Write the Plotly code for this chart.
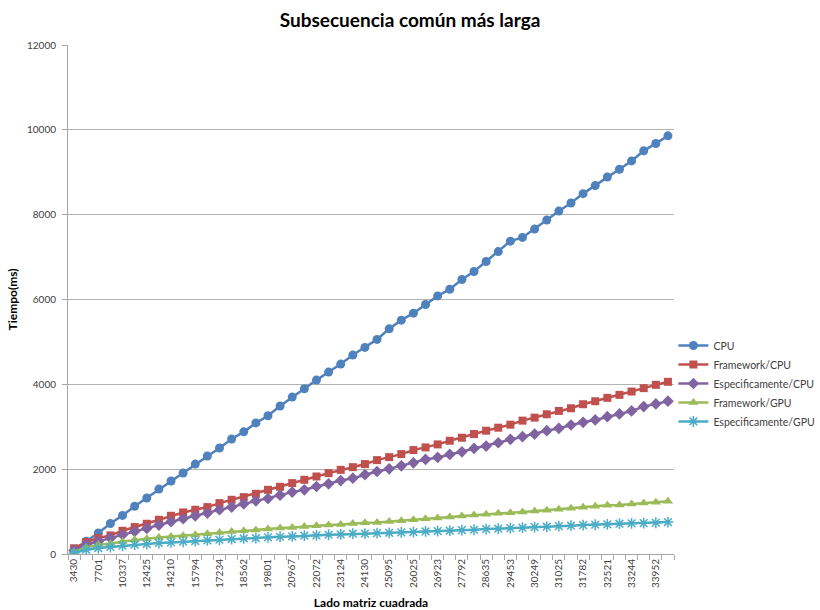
import plotly.graph_objects as go

categories = ["3430", "5961", "7701", "9115", "10337", "11429", "12425", "13348", "14210", "15023",
              "15794", "16530", "17234", "17910", "18562", "19192", "19801", "20393", "20967", "21527",
              "22072", "22604", "23124", "23632", "24130", "24618", "25095", "25565", "26025", "26479",
              "26923", "27361", "27792", "28217", "28635", "29047", "29453", "29854", "30249", "30640",
              "31025", "31406", "31782", "32154", "32521", "32885", "33244", "33600", "33952", "34300"]

cpu = [100, 300, 495, 720, 910, 1125, 1320, 1530, 1720, 1910,
       2120, 2310, 2500, 2710, 2880, 3090, 3260, 3490, 3700, 3895,
       4100, 4289, 4478, 4690, 4871, 5059, 5308, 5513, 5678, 5882,
       6085, 6242, 6471, 6659, 6895, 7130, 7376, 7464, 7660, 7872,
       8085, 8274, 8496, 8686, 8889, 9071, 9267, 9504, 9678, 9858]

framework_cpu = [135, 282, 376, 439, 548, 635, 713, 807, 901, 980,
                 1043, 1106, 1200, 1278, 1341, 1419, 1513, 1584, 1671, 1749,
                 1827, 1906, 1984, 2047, 2120, 2213, 2284, 2355, 2450, 2513,
                 2584, 2670, 2741, 2828, 2907, 2978, 3049, 3144, 3215, 3294,
                 3373, 3436, 3531, 3602, 3681, 3752, 3830, 3910, 3988, 4059]

espec_cpu = [85, 219, 297, 376, 454, 533, 603, 682, 760, 831,
             901, 965, 1043, 1106, 1184, 1254, 1309, 1388, 1459, 1513,
             1591, 1654, 1732, 1788, 1870, 1945, 2007, 2078, 2149, 2230,
             2277, 2348, 2410, 2490, 2544, 2623, 2703, 2765, 2828, 2907,
             2963, 3041, 3105, 3160, 3238, 3302, 3373, 3475, 3539, 3602]

framework_gpu = [47, 156, 219, 242, 297, 336, 360, 391, 414, 431,
                 454, 478, 509, 533, 548, 564, 588, 611, 627, 650,
                 666, 682, 697, 721, 735, 745, 769, 786, 809, 833,
                 849, 872, 895, 918, 935, 959, 975, 990, 1013, 1030,
                 1053, 1077, 1100, 1124, 1147, 1155, 1179, 1203, 1219, 1242]

espec_gpu = [24, 101, 141, 165, 195, 219, 235, 259, 273, 289,
             306, 320, 336, 353, 367, 376, 391, 407, 414, 431,
             438, 454, 461, 478, 480, 492, 500, 509, 517, 532,
             540, 549, 563, 572, 587, 596, 611, 620, 634, 643,
             658, 667, 681, 690, 698, 714, 722, 729, 737, 753]

series_names = ["CPU", "Framework/CPU", "Especificamente/CPU", "Framework/GPU", "Especificamente/GPU"]
series_values = [cpu, framework_cpu, espec_cpu, framework_gpu, espec_gpu]
colors = ["#4F81BD", "#C0504D", "#8064A2", "#9BBB59", "#4BACC6"]
symbols = ["circle", "square", "diamond", "triangle-up", "asterisk-open"]
sizes = [9, 8, 9, 9, 9]

y_ticks = [0, 2000, 4000, 6000, 8000, 10000, 12000]
y_tick_text = [str(v) for v in y_ticks]
tick_text = [c if i % 2 == 0 else "" for i, c in enumerate(categories)]

FONT = "Lato, 'Open Sans', sans-serif"

fig = go.Figure()
for name, vals, col, sym, sz in zip(series_names, series_values, colors, symbols, sizes):
    marker = dict(symbol=sym, size=sz, color=col)
    if sym == "asterisk-open":
        marker["line"] = dict(color=col, width=1.5)
    else:
        marker["line"] = dict(width=0)
    fig.add_trace(go.Scatter(
        x=categories, y=vals, name=name, mode="lines+markers",
        line=dict(color=col, width=2.5), marker=marker,
    ))

fig.update_layout(
    width=820, height=610,
    margin=dict(l=68, r=146, t=45, b=56, autoexpand=False),
    paper_bgcolor="white", plot_bgcolor="white",
    font=dict(family=FONT, color="#404040", size=10),
    title=dict(text="<b>Subsecuencia común más larga</b>", x=0.5, xanchor="center",
               y=0.967, yanchor="middle", font=dict(size=19, color="#000000", family=FONT)),
    showlegend=True,
    legend=dict(x=0.999, xanchor="left", y=0.335, yanchor="middle",
                font=dict(size=10.5, color="#404040", family=FONT),
                bgcolor="rgba(0,0,0,0)", itemwidth=30, tracegroupgap=0),
)

fig.update_xaxes(
    type="category", tickmode="array", tickvals=categories, ticktext=tick_text,
    tickangle=-90, tickson="boundaries", ticks="outside", ticklen=5, tickcolor="#a6a6a6",
    showline=True, linecolor="#a6a6a6", linewidth=1, showgrid=False, zeroline=False,
    tickfont=dict(size=10, color="#404040"),
    title=dict(text="<b>Lado matriz cuadrada</b>", font=dict(size=12, color="#000000"), standoff=14),
    range=[-0.5, len(categories) - 0.5],
)
fig.update_yaxes(
    range=[0, 12000], tickmode="array", tickvals=y_ticks, ticktext=y_tick_text,
    ticks="outside", ticklen=5, tickcolor="#a6a6a6", ticklabelstandoff=4,
    showline=True, linecolor="#a6a6a6", linewidth=1,
    showgrid=True, gridcolor="#b3b3b3", gridwidth=1, zeroline=False,
    tickfont=dict(size=10, color="#404040"),
    title=dict(text="<b>Tiempo(ms)</b>", font=dict(size=12, color="#000000"), standoff=6),
)

fig.write_html("out.html")
